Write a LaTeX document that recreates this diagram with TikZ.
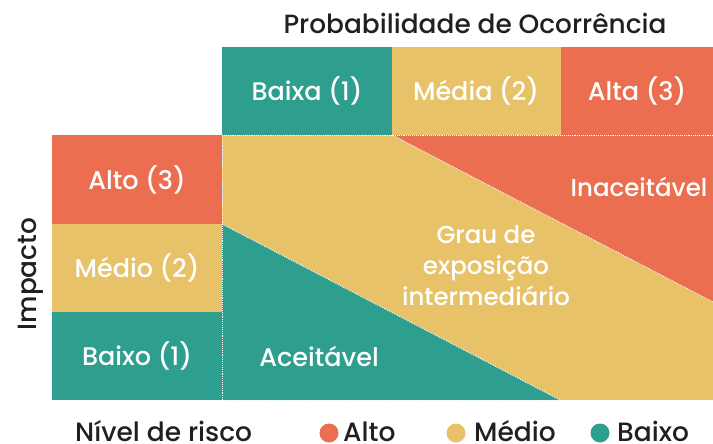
\documentclass[tikz,border=0pt]{standalone}
\usepackage{fontspec}
\setmainfont{Poppins}[UprightFont=*-Medium]
\usetikzlibrary{positioning}
\definecolor{c1}{HTML}{EA6E4F}
\definecolor{c2}{HTML}{E8C268}
\definecolor{c3}{HTML}{2E9E8F}
\definecolor{ink}{HTML}{231F20}

\tikzset{
	cell/.style={text=white, font=\fontsize{25.5}{29}\selectfont},
	key/.style={text=ink, font=\fontsize{26.5}{30}\selectfont, inner sep=0pt, anchor=base west},
	sep/.style={white, line width=0.9pt, densely dotted},
	dot/.style={circle, inner sep=0pt, minimum size=19pt}
}

\begin{document}
\begin{tikzpicture}[x=1pt, y=-1pt]
	\useasboundingbox (0, 0) rectangle (713, 444);

	% matrix area
	\fill[c2] (222, 135) rectangle (713, 400);
	\fill[c3] (222, 224) -- (560, 400) -- (222, 400) -- cycle;
	\fill[c1] (392, 135) -- (713, 135) -- (713, 302) -- cycle;

	% header row
	\fill[c3] (222, 47) rectangle (392, 135);
	\fill[c2] (392, 47) rectangle (561, 135);
	\fill[c1] (561, 47) rectangle (713, 135);

	% left column
	\fill[c1] (52, 135) rectangle (222, 224);
	\fill[c2] (52, 224) rectangle (222, 312);
	\fill[c3] (52, 312) rectangle (222, 400);

	\draw[sep] (222, 135) -- (713, 135);
	\draw[sep] (222, 135) -- (222, 400);
	\draw[sep] (222, 400) -- (713, 400);
	\draw[sep] (222, 224) -- (560, 400);
	\draw[sep] (392, 135) -- (713, 302);

	\node[text=ink, font=\fontsize{26.4}{30}\selectfont] (title) at (475, 23) {Probabilidade de Ocorrência};
	\node[text=ink, font=\fontsize{26.4}{30}\selectfont, rotate=90] (impacto) at (31, 274) {Impacto};

	\node[cell] (pb) at (307, 91) {Baixa (1)};
	\node[cell] (pm) at (476, 91) {Média (2)};
	\node[cell] (pa) at (637, 91) {Alta (3)};

	\node[cell] (ia) at (137, 180) {Alto (3)};
	\node[cell] (im) at (137, 268) {Médio (2)};
	\node[cell] (ib) at (137, 356) {Baixo (1)};

	\node[cell, font=\fontsize{24.5}{29}\selectfont] (inac) at (639, 187) {Inaceitável};
	\node[cell, align=center, font=\fontsize{24.5}{31}\selectfont] (grau) at (486, 266) {Grau de\\exposição\\intermediário};
	\node[cell] (acei) at (319, 356) {Aceitável};

	% legend
	\node[key] (nivel) at (75, 441) {Nível de risco};
	\node[dot, fill=c1] (d1) at (329, 433) {};
	\node[key] (l1) at (343, 441) {Alto};
	\node[dot, fill=c2] (d2) at (456, 433) {};
	\node[key] (l2) at (474, 441) {Médio};
	\node[dot, fill=c3] (d3) at (600, 433) {};
	\node[key] (l3) at (617, 441) {Baixo};
\end{tikzpicture}
\end{document}
